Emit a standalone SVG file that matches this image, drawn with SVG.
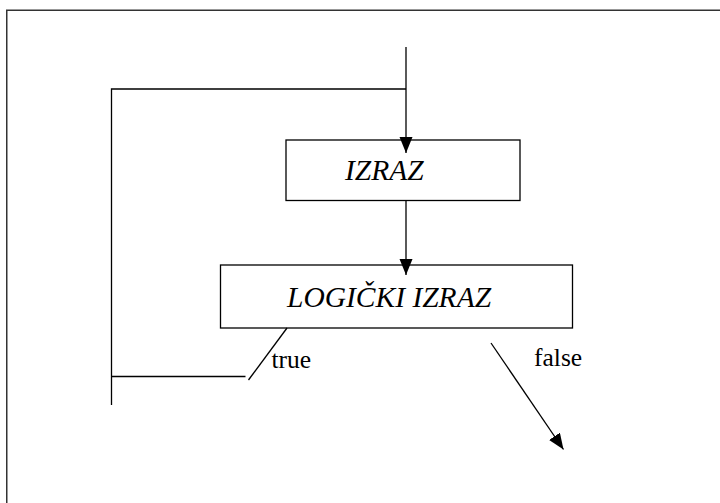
<svg xmlns="http://www.w3.org/2000/svg" width="720" height="503" viewBox="0 0 720 503">
  <style>
    .line { stroke: #000; stroke-width: 1.3; fill: none; }
    .box { stroke: #000; stroke-width: 1.3; fill: #fff; }
    .lbl { font-family: 'Liberation Serif', 'Times New Roman', serif; font-style: italic; font-size: 29.5px; fill: #000; }
    .edge { font-family: 'Liberation Serif', 'Times New Roman', serif; font-size: 25.5px; fill: #000; }
  </style>
  <defs>
    <marker id="arr" markerUnits="userSpaceOnUse" markerWidth="16" markerHeight="14" refX="16" refY="6.5" orient="auto">
      <path d="M0,0 L16,6.5 L0,13 z" fill="#000"/>
    </marker>
  </defs>
  <rect x="0" y="0" width="720" height="503" fill="#fff"/>
  <rect x="6.75" y="10.25" width="720" height="500" fill="none" stroke="#333" stroke-width="1.5"/>

  <g id="izraz">
    <rect class="box" x="286" y="140" width="234" height="60.5"/>
    <text class="lbl" x="345" y="180">IZRAZ</text>
  </g>
  <g id="logicki">
    <rect class="box" x="220.5" y="265" width="352" height="63"/>
    <text class="lbl" x="287" y="306.5">LOGIČKI IZRAZ</text>
  </g>

  <g id="connectors">
    <line class="line" x1="406" y1="47" x2="406" y2="153" marker-end="url(#arr)"/>
    <polyline class="line" points="406,89 111.5,89 111.5,405"/>
    <line class="line" x1="406" y1="200.5" x2="406" y2="275" marker-end="url(#arr)"/>
    <polyline class="line" points="287,328 248.5,380"/>
    <line class="line" x1="111.5" y1="376.5" x2="245.5" y2="376.5"/>
    <line class="line" x1="491" y1="343" x2="563.5" y2="449.5" marker-end="url(#arr)"/>
    <text class="edge" x="271.5" y="368">true</text>
    <text class="edge" x="534" y="366">false</text>
  </g>
</svg>
